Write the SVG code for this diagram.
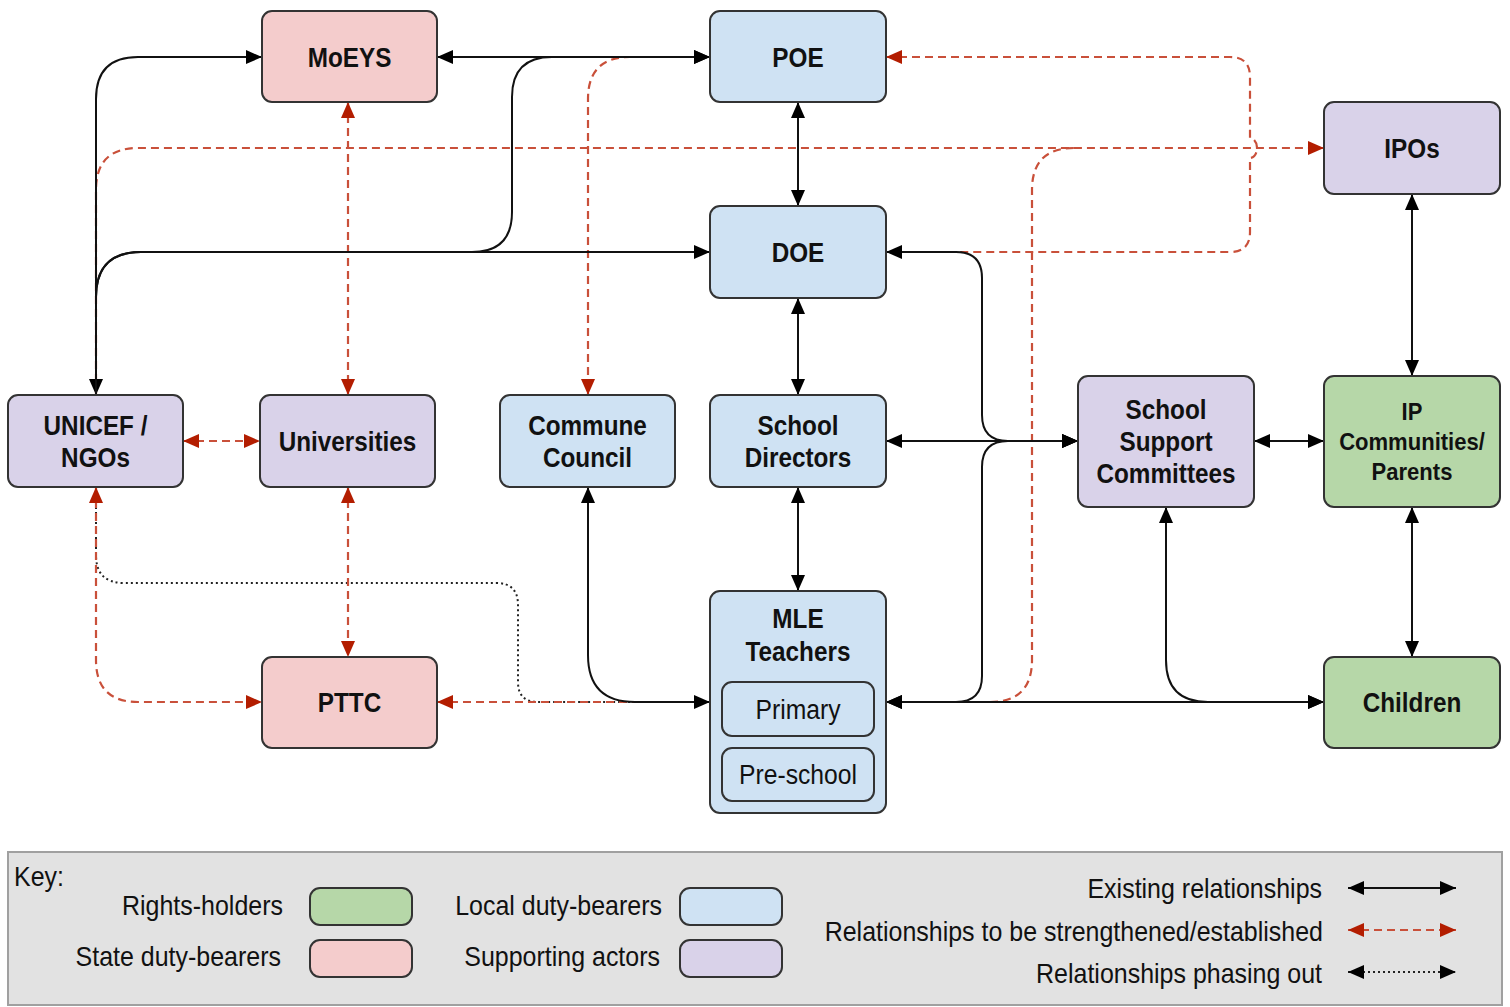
<svg xmlns="http://www.w3.org/2000/svg" width="1510" height="1007" viewBox="0 0 1510 1007">
<style>
.n{stroke:#333;stroke-width:2}
.pk{fill:#f4cccc}.bl{fill:#cfe2f3}.pu{fill:#d9d2e9}.gr{fill:#b6d7a8}
.b{font-family:"Liberation Sans",Arial,sans-serif;font-weight:bold;font-size:27px;fill:#111;text-anchor:middle}
.s{font-family:"Liberation Sans",Arial,sans-serif;font-size:27px;fill:#111;text-anchor:middle}
.k{font-family:"Liberation Sans",Arial,sans-serif;font-size:27px;fill:#111;text-anchor:end}
.e{fill:none;stroke:#111;stroke-width:2}
.r{fill:none;stroke:#c9503a;stroke-width:2.2;stroke-dasharray:8 5}
.d{fill:none;stroke:#222;stroke-width:2;stroke-dasharray:2 3}
</style>
<defs>
<marker id="ab" viewBox="0 0 16 14" refX="16" refY="7" markerWidth="16" markerHeight="14" markerUnits="userSpaceOnUse" orient="auto-start-reverse"><path d="M0,0 L16,7 L0,14 Z" fill="#000"/></marker>
<marker id="ar" viewBox="0 0 16 14" refX="16" refY="7" markerWidth="16" markerHeight="14" markerUnits="userSpaceOnUse" orient="auto-start-reverse"><path d="M0,0 L16,7 L0,14 Z" fill="#b31d00"/></marker>
</defs>
<rect x="0" y="0" width="1510" height="1007" fill="#fff"/>

<g id="connectors">
<g id="dotted">
<path class="d" d="M96,487 L96,555 Q96,583 124,583 L496,583 Q518,583 518,605 L518,682 Q518,702 538,702 L710,702"/>
</g>
<g id="red">
<path class="r" d="M96,395 L96,190 Q96,148 138,148 L1324,148" marker-end="url(#ar)"/>
<path class="r" d="M886,702 L990,702 Q1032,702 1032,660 L1032,190 Q1032,148 1074,148"/>
<path class="r" d="M886,57 L1230,57 Q1250,57 1250,77 L1250,138 A7,10 0 0 1 1250,158 L1250,232 Q1250,252 1230,252 L886,252" marker-start="url(#ar)"/>
<path class="r" d="M710,57 L630,57 Q588,57 588,99 L588,395" marker-end="url(#ar)"/>
<path class="r" d="M348,102 L348,395" marker-start="url(#ar)" marker-end="url(#ar)"/>
<path class="r" d="M348,487 L348,657" marker-start="url(#ar)" marker-end="url(#ar)"/>
<path class="r" d="M183,441 L260,441" marker-start="url(#ar)" marker-end="url(#ar)"/>
<path class="r" d="M96,487 L96,660 Q96,702 138,702 L262,702" marker-start="url(#ar)" marker-end="url(#ar)"/>
<path class="r" d="M437,702 L710,702" marker-start="url(#ar)"/>
</g>
<g id="black">
<path class="e" d="M96,395 L96,99 Q96,57 138,57 L262,57" marker-start="url(#ab)" marker-end="url(#ab)"/>
<path class="e" d="M96,395 L96,297 Q96,252 141,252 L710,252" marker-end="url(#ab)"/>
<path class="e" d="M96,395 L96,297 Q96,252 141,252 L472,252 Q512,252 512,212 L512,97 Q512,57 552,57 L710,57" marker-end="url(#ab)"/>
<path class="e" d="M437,57 L710,57" marker-start="url(#ab)" marker-end="url(#ab)"/>
<path class="e" d="M798,102 L798,206" marker-start="url(#ab)" marker-end="url(#ab)"/>
<path class="e" d="M798,298 L798,395" marker-start="url(#ab)" marker-end="url(#ab)"/>
<path class="e" d="M798,487 L798,591" marker-start="url(#ab)" marker-end="url(#ab)"/>
<path class="e" d="M1412,194 L1412,376" marker-start="url(#ab)" marker-end="url(#ab)"/>
<path class="e" d="M1412,507 L1412,657" marker-start="url(#ab)" marker-end="url(#ab)"/>
<path class="e" d="M1254,441 L1324,441" marker-start="url(#ab)" marker-end="url(#ab)"/>
<path class="e" d="M886,441 L1078,441" marker-start="url(#ab)" marker-end="url(#ab)"/>
<path class="e" d="M886,252 L956,252 Q982,252 982,278 L982,415 Q982,441 1008,441 L1078,441" marker-start="url(#ab)" marker-end="url(#ab)"/>
<path class="e" d="M886,702 L956,702 Q982,702 982,676 L982,467 Q982,441 1008,441 L1078,441" marker-start="url(#ab)" marker-end="url(#ab)"/>
<path class="e" d="M886,702 L1324,702" marker-start="url(#ab)" marker-end="url(#ab)"/>
<path class="e" d="M1166,507 L1166,660 Q1166,702 1208,702 L1324,702" marker-start="url(#ab)" marker-end="url(#ab)"/>
<path class="e" d="M588,487 L588,655 Q588,702 635,702 L710,702" marker-start="url(#ab)" marker-end="url(#ab)"/>
</g>
</g>

<g id="MoEYS"><rect class="n pk" x="262" y="11" width="175" height="91" rx="10"/><text class="b" transform="translate(349.5,66.7) scale(0.9,1)">MoEYS</text></g>
<g id="POE"><rect class="n bl" x="710" y="11" width="176" height="91" rx="10"/><text class="b" transform="translate(798,66.7) scale(0.9,1)">POE</text></g>
<g id="IPOs"><rect class="n pu" x="1324" y="102" width="176" height="92" rx="10"/><text class="b" transform="translate(1412,157.7) scale(0.9,1)">IPOs</text></g>
<g id="DOE"><rect class="n bl" x="710" y="206" width="176" height="92" rx="10"/><text class="b" transform="translate(798,261.7) scale(0.9,1)">DOE</text></g>
<g id="UNICEF"><rect class="n pu" x="8" y="395" width="175" height="92" rx="10"/><text class="b" transform="translate(95.5,0) scale(0.9,1)"><tspan x="0" y="434.7">UNICEF /</tspan><tspan x="0" y="466.7">NGOs</tspan></text></g>
<g id="Universities"><rect class="n pu" x="260" y="395" width="175" height="92" rx="10"/><text class="b" transform="translate(347.5,450.7) scale(0.9,1)">Universities</text></g>
<g id="CommuneCouncil"><rect class="n bl" x="500" y="395" width="175" height="92" rx="10"/><text class="b" transform="translate(587.5,0) scale(0.9,1)"><tspan x="0" y="434.7">Commune</tspan><tspan x="0" y="466.7">Council</tspan></text></g>
<g id="SchoolDirectors"><rect class="n bl" x="710" y="395" width="176" height="92" rx="10"/><text class="b" transform="translate(798,0) scale(0.9,1)"><tspan x="0" y="434.7">School</tspan><tspan x="0" y="466.7">Directors</tspan></text></g>
<g id="SSC"><rect class="n pu" x="1078" y="376" width="176" height="131" rx="10"/><text class="b" transform="translate(1166,0) scale(0.9,1)"><tspan x="0" y="418.7">School</tspan><tspan x="0" y="450.7">Support</tspan><tspan x="0" y="482.7">Committees</tspan></text></g>
<g id="IPCommunities"><rect class="n gr" x="1324" y="376" width="176" height="131" rx="10"/><text class="b" style="font-size:24.5px" transform="translate(1412,0) scale(0.9,1)"><tspan x="0" y="419.8">IP</tspan><tspan x="0" y="449.8">Communities/</tspan><tspan x="0" y="479.8">Parents</tspan></text></g>
<g id="PTTC"><rect class="n pk" x="262" y="657" width="175" height="91" rx="10"/><text class="b" transform="translate(349.5,711.7) scale(0.9,1)">PTTC</text></g>
<g id="MLETeachers"><rect class="n bl" x="710" y="591" width="176" height="222" rx="10"/><text class="b" transform="translate(798,0) scale(0.9,1)"><tspan x="0" y="627.7">MLE</tspan><tspan x="0" y="660.7">Teachers</tspan></text>
<g id="Primary"><rect class="n bl" x="722" y="682" width="152" height="54" rx="10"/><text class="s" transform="translate(798,718.7) scale(0.915,1)">Primary</text></g>
<g id="PreSchool"><rect class="n bl" x="722" y="748" width="152" height="53" rx="10"/><text class="s" transform="translate(798,783.7) scale(0.915,1)">Pre-school</text></g>
</g>
<g id="Children"><rect class="n gr" x="1324" y="657" width="176" height="91" rx="10"/><text class="b" transform="translate(1412,711.7) scale(0.9,1)">Children</text></g>

<g id="key">
<rect x="8" y="852" width="1494" height="153" fill="#e2e2e2" stroke="#a0a0a0" stroke-width="2"/>
<text class="k" style="text-anchor:start" transform="translate(14,886) scale(0.925,1)">Key:</text>
<text class="k" transform="translate(283,915) scale(0.925,1)">Rights-holders</text>
<rect class="n gr" x="310" y="888" width="102" height="37" rx="10"/>
<text class="k" transform="translate(281,966) scale(0.925,1)">State duty-bearers</text>
<rect class="n pk" x="310" y="940" width="102" height="37" rx="10"/>
<text class="k" transform="translate(662,915) scale(0.925,1)">Local duty-bearers</text>
<rect class="n bl" x="680" y="888" width="102" height="37" rx="10"/>
<text class="k" transform="translate(660,966) scale(0.925,1)">Supporting actors</text>
<rect class="n pu" x="680" y="940" width="102" height="37" rx="10"/>
<text class="k" transform="translate(1322,898) scale(0.925,1)">Existing relationships</text>
<path class="e" d="M1348,888 L1456,888" marker-start="url(#ab)" marker-end="url(#ab)"/>
<text class="k" transform="translate(1323,941) scale(0.925,1)">Relationships to be strengthened/established</text>
<path class="r" d="M1348,930 L1456,930" marker-start="url(#ar)" marker-end="url(#ar)"/>
<text class="k" transform="translate(1322,983) scale(0.925,1)">Relationships phasing out</text>
<path class="d" d="M1348,972 L1456,972" marker-start="url(#ab)" marker-end="url(#ab)"/>
</g>
</svg>
